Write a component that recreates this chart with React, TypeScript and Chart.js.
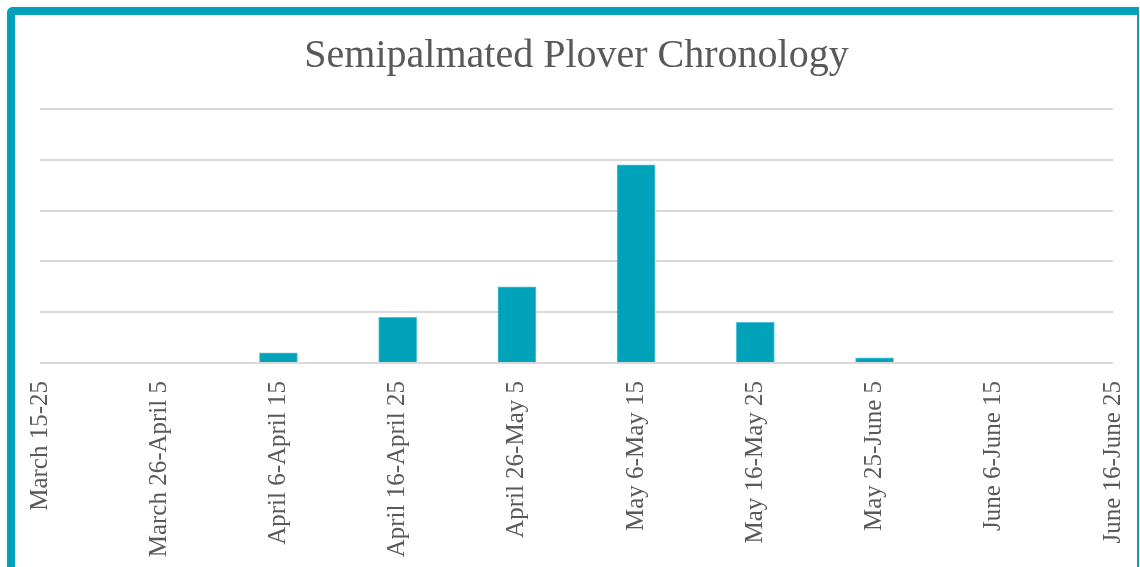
import React, { useEffect, useRef } from "react";
import { Chart, registerables } from "chart.js";

Chart.register(...registerables);

const TITLE = "Semipalmated Plover Chronology";
const categories = [
  "March 15-25",
  "March 26-April 5",
  "April 6-April 15",
  "April 16-April 25",
  "April 26-May 5",
  "May 6-May 15",
  "May 16-May 25",
  "May 25-June 5",
  "June 6-June 15",
  "June 16-June 25",
];
const sightings = [0, 0, 2, 9, 15, 39, 8, 1, 0, 0];
const yMax = 50;
const yStep = 10;

const TEAL = "#00a2ba";
const TEXT = "#595959";
const FONT = "'Liberation Serif', 'Times New Roman', serif";

export default function App() {
  const ref = useRef<HTMLCanvasElement | null>(null);

  useEffect(() => {
    if (!ref.current) return;
    const chart = new Chart(ref.current, {
      type: "bar",
      data: {
        labels: categories,
        datasets: [
          {
            data: sightings,
            backgroundColor: TEAL,
            borderColor: "#55c3d3",
            borderWidth: 1,
            barThickness: 38,
          },
        ],
      },
      options: {
        animation: false,
        responsive: false,
        maintainAspectRatio: false,
        layout: { padding: { left: 40, right: 27, top: 0, bottom: 0 } },
        plugins: {
          legend: { display: false },
          tooltip: { enabled: false },
          title: {
            display: true,
            text: TITLE,
            color: TEXT,
            font: { family: FONT, size: 40, weight: "normal", lineHeight: 1.2 },
            padding: { top: 32, bottom: 29 },
          },
        },
        scales: {
          x: {
            offset: false,
            grid: { display: false, drawTicks: false },
            border: { display: false },
            ticks: {
              color: TEXT,
              font: { family: FONT, size: 25 },
              maxRotation: 90,
              minRotation: 90,
              autoSkip: false,
              padding: 18,
            },
            afterFit: (scale: any) => {
              scale.height = 567 - 363;
              scale.paddingLeft = 0;
              scale.paddingRight = 0;
            },
          },
          y: {
            min: 0,
            max: yMax,
            ticks: { display: false, stepSize: yStep },
            grid: { color: "#d9d9d9", lineWidth: 2, drawTicks: false },
            border: { display: false },
            afterFit: (scale: any) => {
              scale.width = 0;
            },
          },
        },
      },
    });
    return () => chart.destroy();
  }, []);

  return (
    <div
      style={{
        position: "absolute",
        left: 0,
        top: 0,
        width: 1140,
        height: 567,
        overflow: "hidden",
        background: "#ffffff",
      }}
    >
      <div
        style={{
          position: "absolute",
          left: 7,
          top: 7,
          width: 1132,
          height: 700,
          boxSizing: "border-box",
          borderLeft: `8px solid ${TEAL}`,
          borderTop: `8px solid ${TEAL}`,
          borderRight: `2px solid #1a9bab`,
          borderTopLeftRadius: 6,
          background: "#ffffff",
        }}
      />
      <canvas
        ref={ref}
        width={1140}
        height={567}
        style={{ position: "absolute", left: 0, top: 0, width: 1140, height: 567 }}
      />
    </div>
  );
}
